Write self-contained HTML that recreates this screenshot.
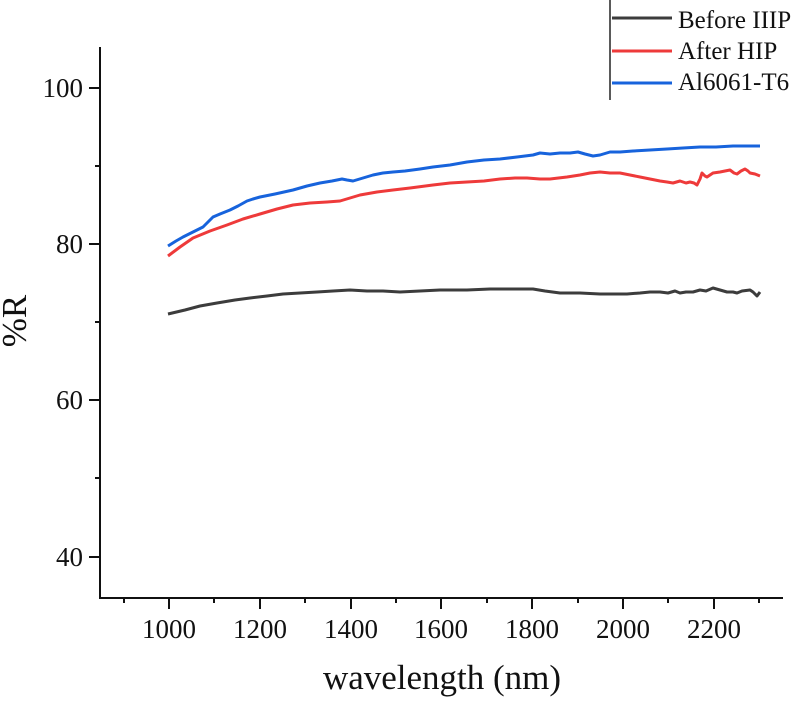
<!DOCTYPE html>
<html>
<head>
<meta charset="utf-8">
<style>
html,body{margin:0;padding:0;background:#fff;}
svg{display:block;}
text{font-family:"Liberation Serif","Times New Roman",serif;fill:#111;}
</style>
</head>
<body>
<svg width="800" height="701" viewBox="0 0 800 701" xmlns="http://www.w3.org/2000/svg">
  <rect width="800" height="701" fill="#fff"/>
  <!-- axes -->
  <line x1="100" y1="47" x2="100" y2="599" stroke="#111" stroke-width="2"/>
  <line x1="99" y1="598" x2="783" y2="598" stroke="#111" stroke-width="2"/>
  <!-- y ticks -->
  <g stroke="#111" stroke-width="2">
    <line x1="89" y1="88" x2="100" y2="88"/>
    <line x1="95" y1="166" x2="100" y2="166"/>
    <line x1="89" y1="244" x2="100" y2="244"/>
    <line x1="95" y1="322" x2="100" y2="322"/>
    <line x1="89" y1="400" x2="100" y2="400"/>
    <line x1="95" y1="478" x2="100" y2="478"/>
    <line x1="89" y1="557" x2="100" y2="557"/>
  </g>
  <!-- x ticks -->
  <g stroke="#111" stroke-width="2">
    <line x1="124" y1="598" x2="124" y2="603"/>
    <line x1="169" y1="598" x2="169" y2="609"/>
    <line x1="214" y1="598" x2="214" y2="603"/>
    <line x1="260" y1="598" x2="260" y2="609"/>
    <line x1="305" y1="598" x2="305" y2="603"/>
    <line x1="351" y1="598" x2="351" y2="609"/>
    <line x1="396" y1="598" x2="396" y2="603"/>
    <line x1="441" y1="598" x2="441" y2="609"/>
    <line x1="487" y1="598" x2="487" y2="603"/>
    <line x1="532" y1="598" x2="532" y2="609"/>
    <line x1="578" y1="598" x2="578" y2="603"/>
    <line x1="623" y1="598" x2="623" y2="609"/>
    <line x1="668" y1="598" x2="668" y2="603"/>
    <line x1="714" y1="598" x2="714" y2="609"/>
    <line x1="759" y1="598" x2="759" y2="603"/>
  </g>
  <!-- y tick labels -->
  <g font-size="27" text-anchor="end">
    <text x="83" y="97">100</text>
    <text x="83" y="253">80</text>
    <text x="83" y="409">60</text>
    <text x="83" y="566">40</text>
  </g>
  <!-- x tick labels -->
  <g font-size="27" text-anchor="middle">
    <text x="169" y="638">1000</text>
    <text x="260" y="638">1200</text>
    <text x="351" y="638">1400</text>
    <text x="441" y="638">1600</text>
    <text x="532" y="638">1800</text>
    <text x="623" y="638">2000</text>
    <text x="714" y="638">2200</text>
  </g>
  <!-- axis titles -->
  <text x="442" y="689" font-size="35" text-anchor="middle">wavelength (nm)</text>
  <text transform="translate(26,321) rotate(-90)" font-size="35" text-anchor="middle">%R</text>

  <!-- Black: Before -->
  <polyline fill="none" stroke="#3c3c3c" stroke-width="3" stroke-linejoin="round"
    points="168,314 185,310 200,306 217,303 235,300 250,298 267,296 283,294 300,293 317,292 333,291 350,290 367,291 383,291 400,292 420,291 440,290 467,290 490,289 510,289 533,289 545,291 560,293 580,293 600,294 615,294 627,294 640,293 650,292 660,292 668,293 675,291 680,293 686,292 693,292 700,290 706,291 713,288 720,290 727,292 733,292 737,293 742,291 750,290 753,292 755,294 757,296 760,292"/>
  <!-- Red: After HIP -->
  <polyline fill="none" stroke="#ee3a3a" stroke-width="3" stroke-linejoin="round"
    points="168,256 180,247 193,238 210,231 227,225 243,219 260,214 277,209 293,205 310,203 327,202 340,201 350,198 360,195 377,192 393,190 410,188 433,185 450,183 467,182 484,181 500,179 515,178 527,178 540,179 550,179 567,177 580,175 590,173 600,172 610,173 620,173 630,175 640,177 650,179 660,181 667,182 673,183 680,181 686,183 690,182 694,183 697,185 700,179 702,173 705,176 707,177 710,175 713,173 720,172 725,171 730,170 734,173 737,174 741,171 745,169 748,171 750,173 755,174 760,176"/>
  <!-- Blue: Al6061-T6 -->
  <polyline fill="none" stroke="#1763dc" stroke-width="3" stroke-linejoin="round"
    points="168,246 176,241 183,237 193,232 203,227 208,222 213,217 220,214 225,212 230,210 238,206 247,201 253,199 260,197 275,194 293,190 307,186 320,183 332,181 342,179 347,180 353,181 363,178 373,175 383,173 393,172 405,171 420,169 433,167 450,165 467,162 484,160 500,159 517,157 533,155 540,153 550,154 560,153 570,153 578,152 585,154 593,156 600,155 610,152 620,152 633,151 650,150 667,149 683,148 700,147 716,147 733,146 746,146 760,146"/>

  <!-- Legend -->
  <line x1="610" y1="0" x2="610" y2="100" stroke="#222" stroke-width="1.5"/>
  <line x1="612" y1="18" x2="672" y2="18" stroke="#3c3c3c" stroke-width="3"/>
  <line x1="612" y1="51" x2="672" y2="51" stroke="#ee3a3a" stroke-width="3"/>
  <line x1="612" y1="83" x2="672" y2="83" stroke="#1763dc" stroke-width="3"/>
  <g font-size="25">
    <text x="678" y="28">Before IIIP</text>
    <text x="678" y="59">After HIP</text>
    <text x="678" y="90">Al6061-T6</text>
  </g>
</svg>
</body>
</html>
